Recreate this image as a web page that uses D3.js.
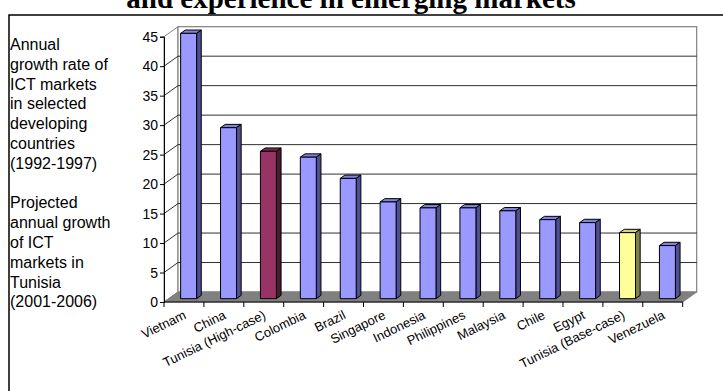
<!DOCTYPE html>
<html>
<head>
<meta charset="utf-8">
<script src="https://cdn.jsdelivr.net/npm/d3@7"></script>
<style>
  html, body { margin: 0; padding: 0; background: #fff; }
  svg { display: block; }
  text { font-family: Arial, "Liberation Sans", sans-serif; }
</style>
</head>
<body>
<svg id="chart" width="723" height="391"></svg>
<script>
// ICT market growth rates (% per year)
const categories = ["Vietnam", "China", "Tunisia (High-case)", "Colombia", "Brazil",
  "Singapore", "Indonesia", "Philippines", "Malaysia", "Chile", "Egypt",
  "Tunisia (Base-case)", "Venezuela"];
const growthValues = [45, 29, 25, 24, 20.4, 16.4, 15.4, 15.4, 14.9, 13.4, 12.9, 11.2, 9];
const barKinds = ["hist", "hist", "high", "hist", "hist", "hist", "hist", "hist", "hist",
  "hist", "hist", "base", "hist"];
const yTicks = [0, 5, 10, 15, 20, 25, 30, 35, 40, 45];
const sideNoteLines = ["Annual", "growth rate of", "ICT markets", "in selected", "developing",
  "countries", "(1992-1997)", "", "Projected", "annual growth", "of ICT", "markets in",
  "Tunisia", "(2001-2006)"];
const titleText = "and experience in emerging markets";

const palette = {
  hist: { front: "#9999ff", side: "#4f4f94", top: "#8181dc" },
  high: { front: "#993366", side: "#4d1a33", top: "#7d2a55" },
  base: { front: "#ffff99", side: "#80804d", top: "#d6d680" }
};

const svg = d3.select("#chart");

// 3-D projection: depth offset of the back wall
const DX = 14, DY = -10;

const x = d3.scaleBand().domain(categories).range([164, 682.7]).paddingInner(0).paddingOuter(0);
const y = d3.scaleLinear().domain([0, 45]).range([302, 36.7]);

// Title (upper part runs off the top edge)
svg.append("text")
  .attr("x", 351).attr("y", 8)
  .attr("text-anchor", "middle")
  .style("font-family", "'Liberation Serif', 'Times New Roman', serif")
  .style("font-weight", "bold")
  .style("font-size", "29px")
  .text(titleText);

// Chart-area frame
svg.append("path")
  .attr("d", "M9,391 V15 H723")
  .attr("fill", "none").attr("stroke", "#000").attr("stroke-width", 1.5);

const x0 = x.range()[0], x1 = x.range()[1];
const yTop = y(45), yBase = y(0);

// Side wall
svg.append("path")
  .attr("d", `M${x0},${yBase} L${x0 + DX},${yBase + DY} L${x0 + DX},${yTop + DY} L${x0},${yTop} Z`)
  .attr("fill", "#fff").attr("stroke", "#808080").attr("stroke-width", 1);

// Back wall
svg.append("rect")
  .attr("x", x0 + DX).attr("y", yTop + DY)
  .attr("width", x1 - x0).attr("height", yBase - yTop)
  .attr("fill", "#fff").attr("stroke", "#808080").attr("stroke-width", 1.2);

// Gridlines on side wall and back wall
const gridVals = yTicks.filter(v => v > 0 && v < 45);
const grid = svg.append("g").attr("stroke", "#1a1a1a").attr("stroke-width", 0.9).attr("fill", "none");
gridVals.forEach(v => {
  grid.append("path")
    .attr("d", `M${x0},${y(v)} L${x0 + DX},${y(v) + DY} H${x1 + DX}`);
});

// Floor
svg.append("path")
  .attr("d", `M${x0},${yBase} L${x1},${yBase} L${x1 + DX},${yBase + DY} L${x0 + DX},${yBase + DY} Z`)
  .attr("fill", "#808080").attr("stroke", "#808080");

// Bars
const bw = x.bandwidth() * 0.4;
const fdx = DX / 3, fdy = DY / 3;      // front face sits one third into the depth
const ddx = DX / 3, ddy = DY / 3;      // bar depth
const bars = svg.append("g").attr("stroke", "#000").attr("stroke-width", 1).attr("stroke-linejoin", "round");
categories.forEach((c, i) => {
  const col = palette[barKinds[i]];
  const left = x(c) + x.bandwidth() / 2 - bw / 2 + fdx;
  const right = left + bw;
  const top = y(growthValues[i]) + fdy;
  const bottom = y(0) + fdy;
  // top face
  bars.append("path")
    .attr("d", `M${left},${top} L${left + ddx},${top + ddy} L${right + ddx},${top + ddy} L${right},${top} Z`)
    .attr("fill", col.top);
  // side face
  bars.append("path")
    .attr("d", `M${right},${top} L${right + ddx},${top + ddy} L${right + ddx},${bottom + ddy} L${right},${bottom} Z`)
    .attr("fill", col.side);
  // front face
  bars.append("rect")
    .attr("x", left).attr("y", top)
    .attr("width", bw).attr("height", bottom - top)
    .attr("fill", col.front);
});

// Value axis
const yAxis = svg.append("g")
  .attr("transform", `translate(${x0},0)`)
  .call(d3.axisLeft(y).tickValues(yTicks).tickSize(4).tickPadding(2).tickFormat(d3.format("d")));
yAxis.select(".domain").attr("stroke", "#000");
yAxis.selectAll(".tick line").attr("stroke", "#000");
yAxis.selectAll(".tick text")
  .style("font-family", "Arial, 'Liberation Sans', sans-serif")
  .style("font-size", "14px").attr("fill", "#000");

// Category axis: line along the floor front edge, ticks at band boundaries
const cat = svg.append("g");
cat.append("line")
  .attr("x1", x0).attr("x2", x1).attr("y1", yBase).attr("y2", yBase)
  .attr("stroke", "#000").attr("stroke-width", 1);
const bounds = categories.map(c => x(c)).concat([x1]);
cat.selectAll("line.tk").data(bounds).join("line").attr("class", "tk")
  .attr("x1", d => d).attr("x2", d => d)
  .attr("y1", yBase).attr("y2", yBase + 5)
  .attr("stroke", "#000");
cat.selectAll("text").data(categories).join("text")
  .attr("transform", d => `translate(${x(d) + x.bandwidth() / 2 + 3},${yBase + 16}) rotate(-26)`)
  .attr("text-anchor", "end")
  .style("font-size", "13px")
  .text(d => d);

// Side annotation text
const note = svg.append("text").attr("x", 10).attr("y", 50).style("font-size", "16px");
sideNoteLines.forEach((t, i) => {
  note.append("tspan").attr("x", 10).attr("y", 50 + i * 19.8).text(t === "" ? "\u00a0" : t);
});
</script>
</body>
</html>
